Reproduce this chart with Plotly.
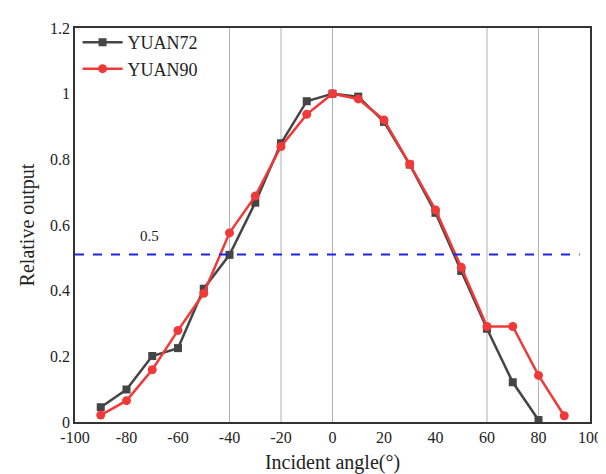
import plotly.graph_objects as go

angles = [-90, -80, -70, -60, -50, -40, -30, -20, -10, 0, 10, 20, 30, 40, 50, 60, 70, 80, 90]
yuan72 = [0.045, 0.099, 0.201, 0.225, 0.406, 0.509, 0.668, 0.849, 0.977, 1.0, 0.991, 0.914, 0.784, 0.637, 0.46, 0.284, 0.121, 0.006, None]
yuan90 = [0.021, 0.065, 0.159, 0.279, 0.392, 0.576, 0.688, 0.839, 0.937, 1.0, 0.984, 0.92, 0.785, 0.646, 0.471, 0.291, 0.291, 0.142, 0.019]
grid_x = [-40, -20, 0, 60, 80]
threshold = 0.51
threshold_label = "0.5"
x_ticks = [-100, -80, -60, -40, -20, 0, 20, 40, 60, 80, 100]
x_ticklabels = ["-100", "-80", "-60", "-40", "-20", "0", "20", "40", "60", "80", "100"]
y_ticks = [0, 0.2, 0.4, 0.6, 0.8, 1.0, 1.2]
y_ticklabels = ["0", "0.2", "0.4", "0.6", "0.8", "1", "1.2"]

FONT = "Liberation Serif"
fig = go.Figure()

for gx in grid_x:
    fig.add_shape(type="line", xref="x", yref="paper", x0=gx, x1=gx, y0=0, y1=1,
                  line=dict(color="#b0b0b0", width=1), layer="below")

fig.add_shape(type="line", xref="x", yref="y", x0=-100, x1=96, y0=threshold, y1=threshold,
              line=dict(color="#1f24e0", width=2, dash="dash"))
fig.add_annotation(x=-71, y=threshold, xref="x", yref="y", text=threshold_label, showarrow=False,
                   yshift=19, font=dict(family=FONT, size=15, color="#222"))

fig.add_trace(go.Scatter(x=angles, y=yuan72, mode="lines+markers", name="YUAN72",
                         line=dict(color="#454545", width=2.5),
                         marker=dict(symbol="square", size=8, color="#454545")))
fig.add_trace(go.Scatter(x=angles, y=yuan90, mode="lines+markers", name="YUAN90",
                         line=dict(color="#f03a3a", width=2.5),
                         marker=dict(symbol="circle", size=9, color="#f03a3a")))

fig.update_layout(
    width=606, height=474,
    margin=dict(l=67, r=12, t=18, b=53),
    paper_bgcolor="white", plot_bgcolor="white",
    font=dict(family=FONT, size=16, color="#222"),
    showlegend=True,
    legend=dict(x=0.005, y=1.01, xanchor="left", yanchor="top", bgcolor="rgba(0,0,0,0)",
                font=dict(family=FONT, size=18, color="#222"), itemwidth=40, tracegroupgap=0),
    xaxis=dict(range=[-100, 100], tickvals=x_ticks, ticktext=x_ticklabels, showgrid=False, zeroline=False,
               showline=True, linecolor="#333", linewidth=1.5, mirror=True, ticks="",
               tickfont=dict(family=FONT, size=16),
               title=dict(text="Incident angle(°)", font=dict(family=FONT, size=20), standoff=10)),
    yaxis=dict(range=[0, 1.2], tickvals=y_ticks, ticktext=y_ticklabels, showgrid=False, zeroline=False,
               showline=True, linecolor="#333", linewidth=1.5, mirror=True, ticks="",
               tickfont=dict(family=FONT, size=16),
               title=dict(text="Relative output", font=dict(family=FONT, size=20), standoff=10)),
)

fig.write_html("out.html")
